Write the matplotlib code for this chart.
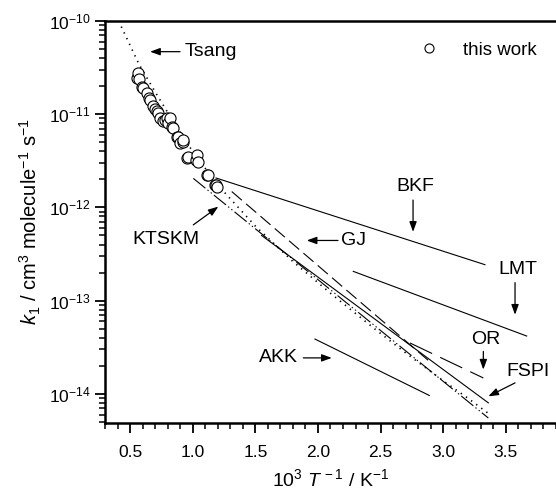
import numpy as np
import matplotlib
matplotlib.use("Agg")
import matplotlib.pyplot as plt
from matplotlib.lines import Line2D
from matplotlib.ticker import MultipleLocator, FormatStrFormatter, FixedLocator, LogFormatterSciNotation

plt.rcParams['font.family'] = ['Liberation Sans', 'DejaVu Sans']
plt.rcParams['mathtext.fontset'] = 'custom'
plt.rcParams['mathtext.rm'] = 'Liberation Sans'
plt.rcParams['mathtext.it'] = 'Liberation Sans:italic'
plt.rcParams['mathtext.bf'] = 'Liberation Sans:bold'

# this work: 10^3/T and k1
work_x = [0.553, 0.566, 0.574, 0.593, 0.606, 0.633, 0.650, 0.660, 0.686, 0.700, 0.713,
          0.726, 0.739, 0.766, 0.779, 0.793, 0.800, 0.819, 0.833, 0.846, 0.873, 0.885,
          0.899, 0.921, 0.925, 0.952, 0.965, 1.030, 1.032, 1.045, 1.112, 1.125, 1.178,
          1.186, 1.192]
work_k = [2.43e-11, 2.75e-11, 2.37e-11, 1.98e-11, 1.90e-11, 1.68e-11, 1.50e-11, 1.42e-11,
          1.23e-11, 1.15e-11, 1.07e-11, 1.03e-11, 9.06e-12, 8.55e-12, 8.69e-12, 9.06e-12,
          8.0e-12, 9.06e-12, 7.36e-12, 7.08e-12, 5.75e-12, 5.75e-12, 4.89e-12, 5.09e-12,
          5.31e-12, 3.37e-12, 3.51e-12, 3.20e-12, 3.66e-12, 3.10e-12, 2.24e-12, 2.24e-12,
          1.75e-12, 1.72e-12, 1.65e-12]

# literature expressions
tsang_x = [0.43, 0.50, 0.57, 0.70, 0.85, 1.00, 1.20, 1.50, 1.80, 2.10, 2.44, 2.70, 3.00, 3.20, 3.36]
tsang_k = [8.71e-11, 5.50e-11, 3.47e-11, 1.74e-11, 8.13e-12, 3.98e-12, 1.74e-12, 6.31e-13,
           2.63e-13, 1.20e-13, 5.13e-14, 2.75e-14, 1.38e-14, 8.91e-15, 6.17e-15]
bkf_x, bkf_k = [1.186, 3.333], [2.07e-12, 2.43e-13]
lmt_x, lmt_k = [2.282, 3.666], [2.06e-13, 4.17e-14]
or_x, or_k = [2.735, 3.320], [3.51e-14, 1.48e-14]
akk_x, akk_k = [1.976, 2.889], [3.87e-14, 9.6e-15]
gj_x, gj_k = [1.312, 2.900], [1.48e-12, 2.17e-14]
ktskm_x, ktskm_k = [1.005, 3.360], [2.05e-12, 5.5e-15]
fspi_x, fspi_k = [1.55, 3.360], [5.0e-13, 8.0e-15]

y_decades = [1e-14, 1e-13, 1e-12, 1e-11, 1e-10]

fig = plt.figure(figsize=(5.56, 4.97), dpi=100)
ax = fig.add_axes([0.1888, 0.1495, 0.8112, 0.8082])

lw = 0.8
ax.plot(tsang_x, tsang_k, color='black', lw=1.2, linestyle=(0, (0.8, 3)))
ax.plot(bkf_x, bkf_k, color='black', lw=lw)
ax.plot(lmt_x, lmt_k, color='black', lw=lw)
ax.plot(or_x, or_k, color='black', lw=lw, linestyle=(0, (22, 8)))
ax.plot(akk_x, akk_k, color='black', lw=lw)
ax.plot(gj_x, gj_k, color='black', lw=lw, linestyle=(0, (12, 5)))
ax.plot(ktskm_x, ktskm_k, color='black', lw=lw, linestyle=(0, (14, 2.5, 1.2, 2.5, 1.2, 2.5)))
ax.plot(fspi_x, fspi_k, color='black', lw=lw)
ax.plot(work_x, work_k, linestyle='none', marker='o', markersize=8,
        markerfacecolor='white', markeredgecolor='black', markeredgewidth=0.8)

ax.set_yscale('log')
ax.set_xlim(0.3, 3.9)
ax.set_ylim(4.9e-15, 1e-10)

ax.xaxis.set_major_locator(MultipleLocator(0.5))
ax.xaxis.set_minor_locator(MultipleLocator(0.1))
ax.xaxis.set_major_formatter(FormatStrFormatter('%.1f'))
minor = [m * d for d in [1e-15, 1e-14, 1e-13, 1e-12, 1e-11] for m in range(2, 10)]
ax.yaxis.set_major_locator(FixedLocator(y_decades))
ax.yaxis.set_major_formatter(LogFormatterSciNotation())
ax.yaxis.set_minor_locator(FixedLocator([v for v in minor if v >= 4.9e-15]))

ax.tick_params(which='major', direction='out', length=7, width=1.3, labelsize=12.5,
               top=False, right=False)
ax.tick_params(which='minor', direction='out', length=4, width=1.1, top=False, right=False,
               labelleft=False)
ax.tick_params(axis='x', pad=9)
for s in ['left', 'bottom', 'top']:
    ax.spines[s].set_linewidth(1.8)
ax.spines['right'].set_visible(False)

ax.set_xlabel(r'10$^3$ $T^{\,-1}$ / K$^{-1}$', fontsize=14, labelpad=6)
ax.set_ylabel(r'$k_1$ / cm$^3$ molecule$^{-1}$ s$^{-1}$', fontsize=14.5, labelpad=4)

arrow = dict(arrowstyle='-|>,head_length=0.6,head_width=0.22', color='black', lw=0.9,
             shrinkA=0, shrinkB=0)
fs = 14

def label(text, tip, tail, pos, ha='center'):
    ax.annotate('', xy=tip, xytext=tail, arrowprops=arrow)
    ax.text(pos[0], pos[1], text, fontsize=fs, ha=ha, va='center')

label('Tsang', (0.660, 4.69e-11), (0.899, 4.69e-11), (0.935, 4.69e-11), ha='left')
label('BKF', (2.759, 5.47e-13), (2.759, 1.2e-12), (2.775, 1.67e-12))
label('GJ', (1.910, 4.42e-13), (2.160, 4.42e-13), (2.180, 4.42e-13), ha='left')
label('KTSKM', (1.205, 1.02e-12), (1.005, 6.5e-13), (0.787, 4.5e-13))
label('LMT', (3.573, 7.06e-14), (3.573, 1.56e-13), (3.597, 2.14e-13))
label('OR', (3.320, 1.82e-14), (3.320, 2.85e-14), (3.341, 3.87e-14))
label('FSPI', (3.360, 9.4e-15), (3.573, 1.31e-14), (3.676, 1.74e-14))
label('AKK', (2.110, 2.43e-14), (1.883, 2.43e-14), (1.681, 2.43e-14))

handle = Line2D([], [], linestyle='none', marker='o', markersize=6.5,
                markerfacecolor='white', markeredgecolor='black', markeredgewidth=0.8)
ax.legend([handle], ['this work'], loc='center left', frameon=False, fontsize=13.5,
          handlelength=1.0, handletextpad=1.3, borderpad=0, borderaxespad=0,
          bbox_to_anchor=(420.0 / 556, 1 - 50.0 / 497), bbox_transform=fig.transFigure)

fig.savefig('out.png', dpi=100)
